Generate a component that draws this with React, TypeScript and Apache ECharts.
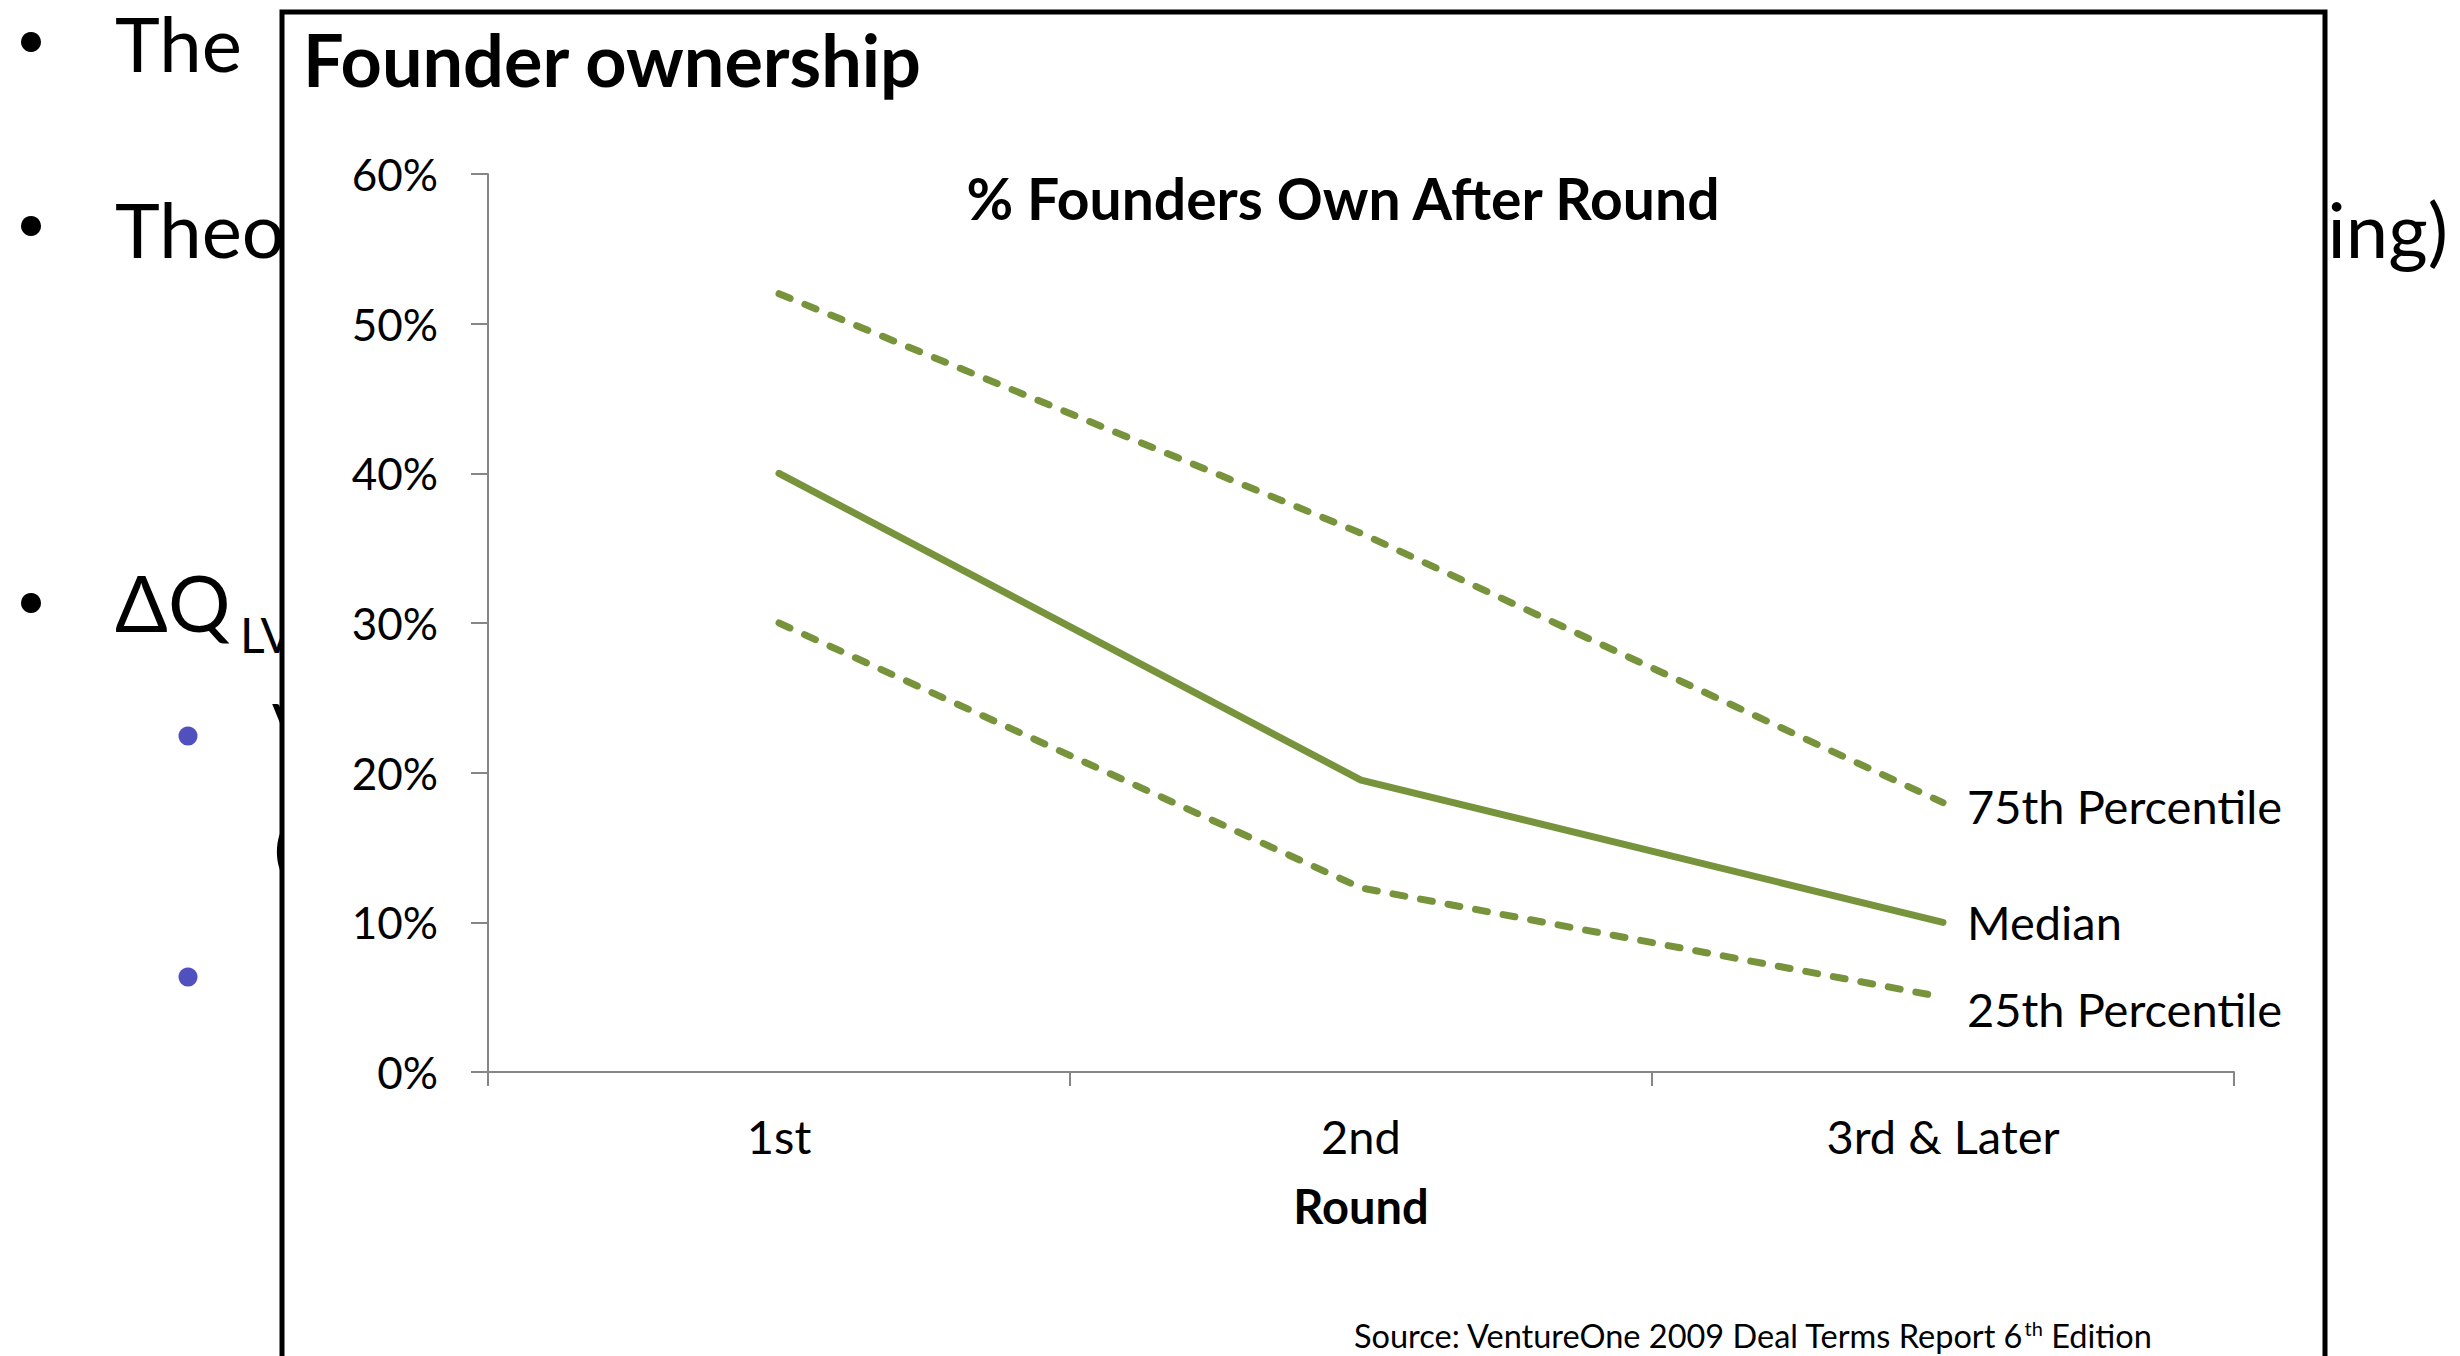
import React, { useEffect, useRef } from "react";
import * as echarts from "echarts";

const rounds = ["1st", "2nd", "3rd & Later"];
const p75 = [52, 36, 18];
const median = [40, 19.5, 10];
const p25 = [30, 12.3, 5];
const seriesNames = ["75th Percentile", "Median", "25th Percentile"];
const yMin = 0;
const yMax = 60;
const yStep = 10;

const GREEN = "#77933C";
const FONT = "Lato";

export default function App() {
  const ref = useRef<HTMLDivElement>(null);
  useEffect(() => {
    if (!ref.current) return;
    const chart = echarts.init(ref.current, undefined, { renderer: "svg" });
    const lineBase = { color: GREEN, width: 7, cap: "round", join: "round" };
    const endLabel = (off: number[]) => ({
      show: true,
      formatter: "{a}",
      color: "#000",
      fontFamily: FONT,
      fontSize: 47,
      distance: 24,
      offset: off,
    });
    chart.setOption({
      animation: false,
      backgroundColor: "#fff",
      textStyle: { fontFamily: FONT },
      grid: { left: 488, right: 226, top: 174, bottom: 284, containLabel: false, z: 5 },
      xAxis: {
        type: "category",
        data: rounds,
        boundaryGap: true,
        z: 5,
        axisLine: { show: true, lineStyle: { color: "#868686", width: 2 } },
        axisTick: { show: true, length: 14, lineStyle: { color: "#868686", width: 2 } },
        axisLabel: { color: "#000", fontSize: 47, fontFamily: FONT, margin: 40 },
        name: "Round",
        nameLocation: "middle",
        nameGap: 110,
        nameTextStyle: { color: "#000", fontSize: 47, fontWeight: "bold", fontFamily: FONT },
        splitLine: { show: false },
      },
      yAxis: {
        type: "value",
        min: yMin,
        max: yMax,
        interval: yStep,
        z: 5,
        axisLine: { show: true, lineStyle: { color: "#868686", width: 2 } },
        axisTick: { show: true, length: 17, lineStyle: { color: "#868686", width: 2 } },
        axisLabel: { color: "#000", fontSize: 44, fontFamily: FONT, margin: 50, formatter: (v: number) => v + "%" },
        splitLine: { show: false },
      },
      series: [
        {
          name: seriesNames[0], type: "line", data: p75, symbol: "none", z: 6,
          lineStyle: { ...lineBase, type: [12, 16] }, endLabel: endLabel([0, 3]),
        },
        {
          name: seriesNames[1], type: "line", data: median, symbol: "none", z: 6,
          lineStyle: { ...lineBase, type: "solid" }, endLabel: endLabel([0, 0]),
        },
        {
          name: seriesNames[2], type: "line", data: p25, symbol: "none", z: 6,
          lineStyle: { ...lineBase, type: [12, 16] }, endLabel: endLabel([0, 12]),
        },
      ],
      graphic: [
        // slide background text
        { type: "circle", z: 0, shape: { cx: 31, cy: 42, r: 10 }, style: { fill: "#000" } },
        { type: "circle", z: 0, shape: { cx: 31, cy: 226, r: 10 }, style: { fill: "#000" } },
        { type: "circle", z: 0, shape: { cx: 31, cy: 603, r: 10 }, style: { fill: "#000" } },
        { type: "circle", z: 0, shape: { cx: 188, cy: 736, r: 9.5 }, style: { fill: "#5050BE" } },
        { type: "circle", z: 0, shape: { cx: 188, cy: 977, r: 9.5 }, style: { fill: "#5050BE" } },
        { type: "text", z: 0, x: 115, y: 42, style: { text: "The", fontFamily: FONT, fontSize: 76, fill: "#000", verticalAlign: "middle" } },
        { type: "text", z: 0, x: 115, y: 228, style: { text: "Theory", fontFamily: FONT, fontSize: 76, fill: "#000", verticalAlign: "middle" } },
        { type: "text", z: 0, x: 2448, y: 228, style: { text: "ing)", fontFamily: FONT, fontSize: 76, fill: "#000", verticalAlign: "middle", align: "right" } },
        { type: "text", z: 0, x: 115, y: 602, style: { text: "ΔQ", fontFamily: FONT, fontSize: 78, fill: "#000", verticalAlign: "middle" } },
        { type: "text", z: 0, x: 240, y: 634, style: { text: "LV", fontFamily: FONT, fontSize: 48, fill: "#000", verticalAlign: "middle" } },
        { type: "text", z: 0, x: 272, y: 725, style: { text: "V", fontFamily: FONT, fontSize: 64, fill: "#000", verticalAlign: "middle" } },
        { type: "text", z: 0, x: 274, y: 847, style: { text: "(", fontFamily: FONT, fontSize: 64, fill: "#000", verticalAlign: "middle" } },
        // chart box
        { type: "rect", z: 1, shape: { x: 282, y: 12, width: 2043, height: 1400 }, style: { fill: "#fff", stroke: "#000", lineWidth: 5 } },
        { type: "text", z: 7, x: 303, y: 59, style: { text: "Founder ownership", fontFamily: FONT, fontWeight: "bold", fontSize: 72, fill: "#000", verticalAlign: "middle" } },
        { type: "text", z: 7, x: 1343, y: 198, style: { text: "% Founders Own After Round", fontFamily: FONT, fontWeight: "bold", fontSize: 57, fill: "#000", verticalAlign: "middle", align: "center" } },
        {
          type: "text", z: 7, x: 1354, y: 1335,
          style: {
            text: "Source: VentureOne 2009 Deal Terms Report 6{sup|th} Edition",
            fontFamily: FONT, fontSize: 32.5, fill: "#000", verticalAlign: "middle",
            rich: { sup: { fontFamily: FONT, fontSize: 20, fill: "#000", padding: [0, 0, 14, 0] } },
          },
        },
      ],
    });
    return () => chart.dispose();
  }, []);
  return <div ref={ref} style={{ position: "fixed", left: 0, top: 0, width: 2460, height: 1356 }} />;
}
